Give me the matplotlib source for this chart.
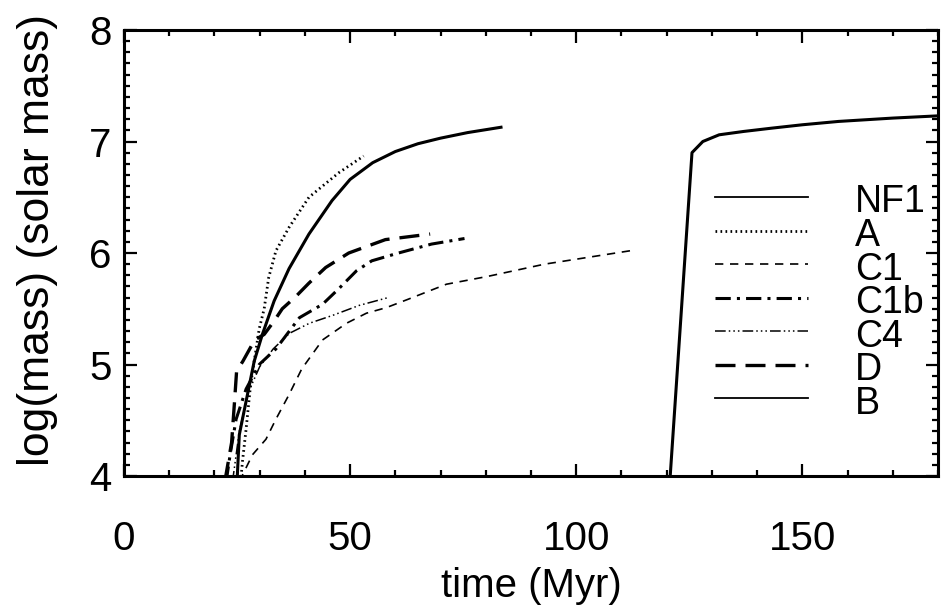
import matplotlib
matplotlib.use("Agg")
import matplotlib.pyplot as plt
from matplotlib.ticker import MultipleLocator

plt.rcParams["font.family"] = ["Liberation Sans", "DejaVu Sans"]

# ---- data: time (Myr) and log10 mass (solar masses) per run ----
nf1_t = [25.0, 25.5, 27.0, 28.8, 30.6, 33.2, 36.5, 40.9, 46.0, 50.0, 55.0, 60.0, 65.0, 70.0, 76.0, 83.7]
nf1_m = [3.95, 4.37, 4.67, 5.03, 5.27, 5.57, 5.86, 6.17, 6.47, 6.66, 6.81, 6.91, 6.98, 7.03, 7.08, 7.13]

a_t = [25.8, 26.2, 27.0, 28.0, 29.9, 31.0, 32.0, 33.6, 36.5, 40.9, 47.5, 53.0]
a_m = [3.95, 4.13, 4.42, 4.82, 5.32, 5.50, 5.78, 6.02, 6.23, 6.50, 6.72, 6.87]

c1_t = [25.5, 28.4, 31.4, 33.6, 36.5, 39.3, 43.9, 49.2, 53.6, 58.0, 62.5, 71.3, 80.4, 93.0, 111.9]
c1_m = [3.95, 4.19, 4.33, 4.51, 4.73, 4.96, 5.22, 5.37, 5.46, 5.51, 5.58, 5.72, 5.79, 5.90, 6.02]

c1b_t = [22.6, 23.5, 24.8, 27.0, 29.9, 33.6, 38.8, 43.9, 47.5, 51.4, 54.8, 60.7, 68.0, 75.3]
c1b_m = [3.95, 4.20, 4.51, 4.78, 5.00, 5.14, 5.42, 5.54, 5.68, 5.84, 5.93, 6.00, 6.08, 6.13]

c4_t = [24.0, 25.5, 27.5, 30.0, 33.0, 36.6, 41.0, 46.1, 52.0, 58.4]
c4_m = [3.95, 4.40, 4.75, 4.98, 5.14, 5.28, 5.37, 5.44, 5.53, 5.60]

d_t = [22.3, 23.8, 24.5, 24.9, 26.3, 28.9, 31.0, 33.2, 35.0, 38.0, 40.9, 44.6, 49.7, 57.8, 67.7]
d_m = [3.95, 4.30, 4.70, 4.94, 5.03, 5.22, 5.27, 5.39, 5.50, 5.61, 5.73, 5.87, 6.00, 6.12, 6.17]

b_t = [120.7, 125.6, 128.0, 131.6, 137.0, 143.3, 150.0, 158.0, 170.0, 180.0]
b_m = [3.95, 6.90, 7.00, 7.06, 7.09, 7.12, 7.15, 7.18, 7.21, 7.23]

labels = ["NF1", "A", "C1", "C1b", "C4", "D", "B"]
x_ticks = [0, 50, 100, 150]
y_ticks = [4, 5, 6, 7, 8]

# line styles: (curve width, legend width, dash pattern)
styles = [
    (2.2, 1.3, "solid"),
    (2.0, 2.0, (0, (0.6, 1.2))),
    (1.2, 1.2, (0, (5, 4))),
    (2.2, 2.2, (0, (5, 2, 1, 2))),
    (1.1, 1.1, (0, (7, 2, 1, 2, 1, 2, 1, 2))),
    (2.4, 2.4, (0, (6, 3))),
    (2.2, 1.3, "solid"),
]
series = [(nf1_t, nf1_m), (a_t, a_m), (c1_t, c1_m), (c1b_t, c1b_m),
          (c4_t, c4_m), (d_t, d_m), (b_t, b_m)]

fig = plt.figure(figsize=(9.45, 6.06), dpi=100)
ax = fig.add_axes([0.1312, 0.2145, 0.8614, 0.736])

for (t, m), (lw, _, ls) in zip(series, styles):
    ax.plot(t, m, color="black", lw=lw, linestyle=ls, solid_capstyle="butt",
            dash_capstyle="butt")

# legend drawn as short sample lines with labels alongside
for i, (lab, (_, llw, ls)) in enumerate(zip(labels, styles)):
    yy = 0.6256 - i * 0.0753
    ax.plot([0.726, 0.840], [yy, yy], transform=ax.transAxes, color="black",
            lw=llw, linestyle=ls, dash_capstyle="butt")
    ax.text(0.898, yy - 0.012, lab, transform=ax.transAxes, fontsize=27,
            va="center", ha="left")

ax.set_xlim(0, 180)
ax.set_ylim(4, 8)
ax.set_xticks(x_ticks)
ax.set_yticks(y_ticks)
ax.xaxis.set_minor_locator(MultipleLocator(10))
ax.yaxis.set_minor_locator(MultipleLocator(0.1))
ax.tick_params(which="both", direction="in", top=True, right=True, width=1.6,
               labelsize=29)
ax.tick_params(axis="x", which="major", pad=32)
ax.tick_params(axis="y", which="major", pad=9)
ax.tick_params(which="major", length=9)
ax.tick_params(which="minor", length=4.5)
for s in ax.spines.values():
    s.set_linewidth(2.2)

ax.set_xlabel("time (Myr)", fontsize=29)
ax.xaxis.set_label_coords(0.5, -0.205)
ax.set_ylabel("log(mass) (solar mass)", fontsize=32)
ax.yaxis.set_label_coords(-0.081, 0.53)

fig.savefig("out.png", dpi=100)
